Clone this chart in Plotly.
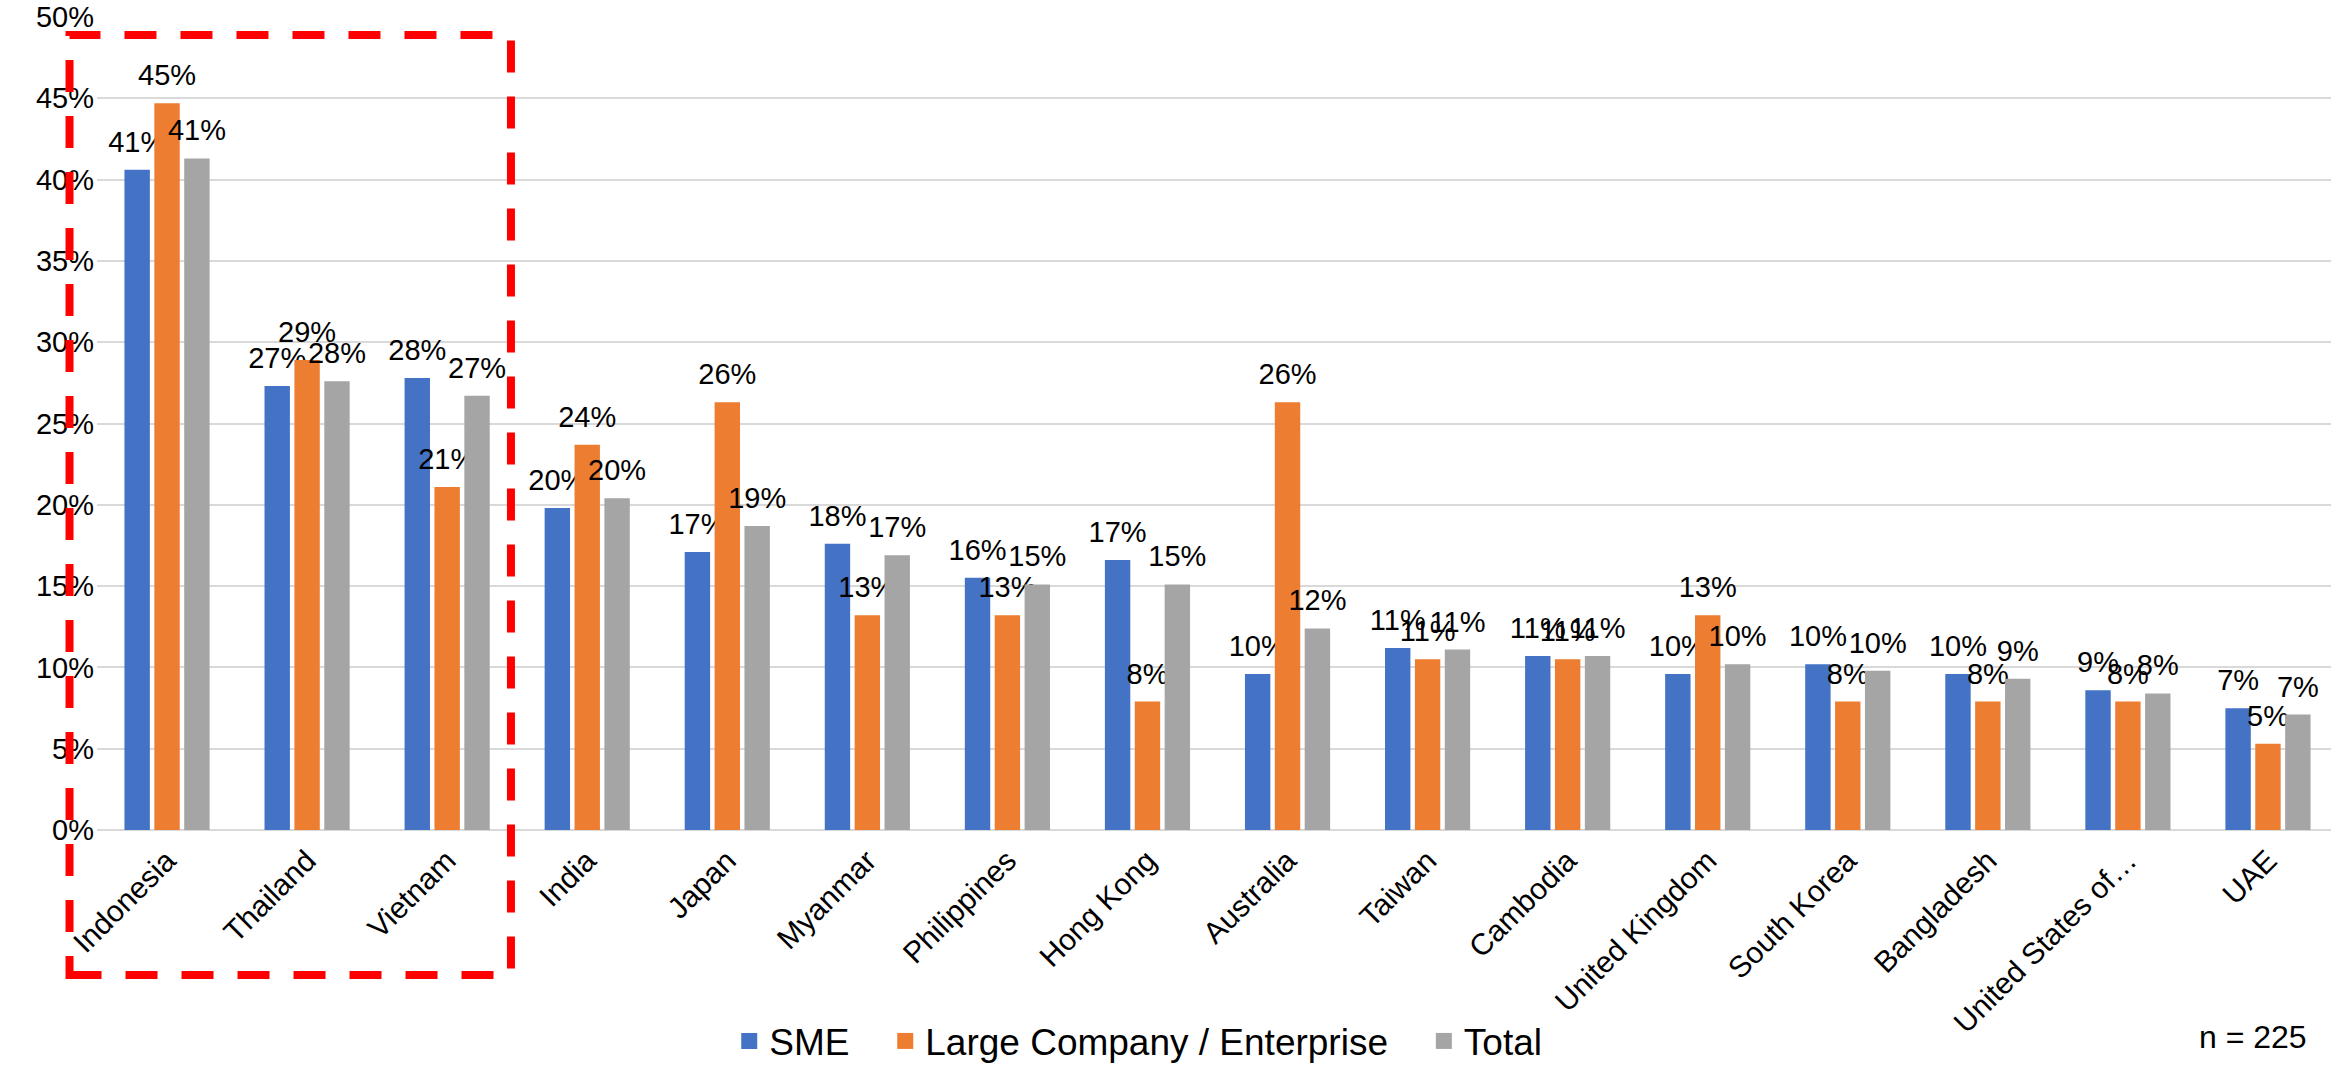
import plotly.graph_objects as go

categories = ["Indonesia", "Thailand", "Vietnam", "India", "Japan", "Myanmar",
              "Philippines", "Hong Kong", "Australia", "Taiwan", "Cambodia",
              "United Kingdom", "South Korea", "Bangladesh", "United States of…", "UAE"]

sme = [0.406, 0.273, 0.278, 0.198, 0.171, 0.176, 0.1551, 0.166, 0.096, 0.112,
       0.107, 0.096, 0.102, 0.096, 0.086, 0.0749]
large = [0.447, 0.289, 0.211, 0.237, 0.263, 0.132, 0.132, 0.079, 0.263, 0.105,
         0.105, 0.132, 0.079, 0.079, 0.079, 0.053]
total = [0.413, 0.276, 0.267, 0.204, 0.187, 0.169, 0.151, 0.151, 0.124, 0.111,
         0.107, 0.102, 0.098, 0.093, 0.084, 0.071]

series = [("SME", sme, "#4472C4"),
          ("Large Company / Enterprise", large, "#ED7D31"),
          ("Total", total, "#A5A5A5")]

FONT = "Liberation Sans, Arial, sans-serif"
NB = "\u00a0"

fig = go.Figure()
for name, vals, color in series:
    fig.add_trace(go.Bar(
        x=categories, y=vals, name=name, showlegend=False,
        marker=dict(color=color, line=dict(width=0)),
        texttemplate="<span style='font-size:29px'>%{y:.0%}</span><br>" + NB,
        textposition="outside",
        constraintext="none", cliponaxis=False,
        textfont=dict(family=FONT, size=10, color="black"),
        hoverinfo="skip",
    ))

# legend entries with larger square swatches
for i, (name, vals, color) in enumerate(series):
    label = name + (NB * 3 if i < len(series) - 1 else "")
    fig.add_trace(go.Scatter(
        x=[None], y=[None], mode="markers", name=label,
        marker=dict(symbol="square", size=19, color=color),
        showlegend=True,
    ))

W, H = 2331, 1066
ml, mr, mt, mb = 97, 0, 17, 236

fig.update_layout(
    width=W, height=H,
    margin=dict(l=ml, r=mr, t=mt, b=mb, autoexpand=False),
    paper_bgcolor="white", plot_bgcolor="white",
    barmode="group", bargap=0.36, bargroupgap=0.15,
    font=dict(family=FONT, color="black"),
    showlegend=True,
    legend=dict(orientation="h", x=0.2830, xanchor="left", y=-0.26, yanchor="middle",
                font=dict(family=FONT, size=37, color="black"),
                traceorder="normal", bgcolor="rgba(0,0,0,0)"),
    xaxis=dict(tickangle=-45, tickfont=dict(family=FONT, size=30, color="black"),
               showline=False, ticks="", showgrid=False, range=[-0.5, 15.45],
               ticklabelstandoff=6),
    yaxis=dict(range=[0, 0.5], dtick=0.05, tickformat=".0%",
               tickfont=dict(family=FONT, size=29, color="black"),
               showgrid=True, gridcolor="#D9D9D9", gridwidth=2,
               zeroline=True, zerolinecolor="#D9D9D9", zerolinewidth=2,
               showline=False, ticks="", ticklabelstandoff=2),
)

# red dashed highlight box around the first three countries
fig.add_shape(type="rect", xref="paper", yref="paper",
              x0=-0.0123, x1=0.1853, y0=-0.1784, y1=0.9779,
              line=dict(color="#FF0000", width=8, dash="32px,24px"),
              fillcolor="rgba(0,0,0,0)", layer="above")

fig.add_annotation(text="n = 225", xref="paper", yref="paper",
                   x=0.9903, y=-0.255, xanchor="right", yanchor="middle",
                   showarrow=False, font=dict(family=FONT, size=32, color="black"))

fig.write_html("out.html",
               config={"displayModeBar": False},
               post_script="document.body.style.margin='0';document.body.style.overflow='hidden';")
